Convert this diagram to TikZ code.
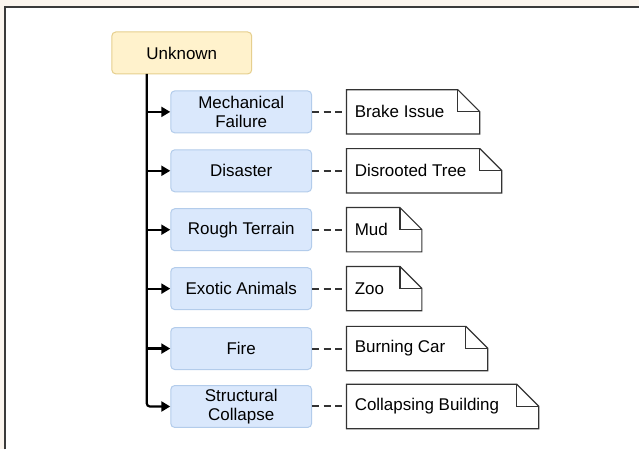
\documentclass[tikz,border=0pt]{standalone}
\usepackage{fontspec}
\setmainfont{Liberation Sans}
\usetikzlibrary{arrows.meta,calc}
\definecolor{pagebg}{HTML}{FBF5EE}
\definecolor{framec}{HTML}{3A3A3A}
\definecolor{rootfill}{HTML}{FFF2CC}
\definecolor{rootdraw}{HTML}{E6CF8E}
\definecolor{catfill}{HTML}{DAE8FC}
\definecolor{catdraw}{HTML}{B3CCEB}
\definecolor{notedraw}{HTML}{333333}
\tikzset{
  labelfont/.style={font=\fontsize{17}{19}\selectfont},
  rootbox/.style={labelfont, draw=rootdraw, fill=rootfill, line width=1pt, rounded corners=4pt,
    minimum width=140pt, minimum height=42pt},
  catbox/.style={labelfont, draw=catdraw, fill=catfill, line width=1pt, rounded corners=4pt,
    minimum width=141pt, minimum height=42pt, align=center},
  notebox/.style={anchor=west, inner sep=0pt, minimum height=44pt},
  trunk/.style={line width=2.2pt, draw=black},
  branch/.style={line width=2.2pt, draw=black, -{Triangle[length=9pt,width=10pt]}},
  link/.style={line width=2pt, draw=notedraw, dash pattern=on 7pt off 4.5pt},
  noteline/.style={draw=notedraw, fill=white, line width=1.2pt, line join=miter}
}
\begin{document}
\begin{tikzpicture}[x=1pt,y=-1pt]
  % page and frame
  \fill[pagebg] (0,0) rectangle (640,450);
  \fill[white] (5,7) rectangle (640,450);
  \draw[framec, line width=1.6pt] (5,450) -- (5,7) -- (640,7);
  \useasboundingbox (0,0) rectangle (640,450);

  % root
  \node[rootbox] (root) at (182,53) {Unknown};

  % categories
  \node[catbox] (c1) at (241.5,112) {Mechanical\\Failure};
  \node[catbox] (c2) at (241.5,171) {Disaster};
  \node[catbox] (c3) at (241.5,230) {Rough Terrain};
  \node[catbox] (c4) at (241.5,289) {Exotic Animals};
  \node[catbox] (c5) at (241.5,349) {Fire};
  \node[catbox] (c6) at (241.5,407) {Structural\\Collapse};

  % trunk and branches
  \coordinate (top) at (147,74);
  \coordinate (bend) at (147,407);
  \draw[trunk] (top) -- (147,400);
  \foreach \i in {1,...,5}{
    \draw[branch] (147,0 |- c\i.west) -- (c\i.west);
  }
  \draw[branch, rounded corners=3pt] (top) -- (bend) -- (c6.west);

  % folded-corner notes: name, y, right edge, text
  \foreach \n/\y/\r/\t in {n1/112/480/Brake Issue, n2/171/502/Disrooted Tree,
      n3/230/422/Mud, n4/289/422/Zoo, n5/349/488/Burning Car,
      n6/407/539/Collapsing Building}{
    \node[notebox, minimum width=\r pt-347pt] (\n) at (347,\y) {};
    \draw[noteline] (\n.south west) -- (\n.north west) -- ($(\n.north east)+(-22,0)$)
      -- ($(\n.north east)+(0,22)$) -- (\n.south east) -- cycle;
    \draw[noteline, fill=none] ($(\n.north east)+(-22,0)$) -- ($(\n.north east)+(-22,22)$)
      -- ($(\n.north east)+(0,22)$);
    \node[labelfont, anchor=west, inner sep=0pt] at ($(\n.west)+(8,0)$) {\t};
  }

  % dashed links
  \foreach \i in {1,...,6}{
    \draw[link] (c\i.east) -- (n\i.west);
  }
\end{tikzpicture}
\end{document}
